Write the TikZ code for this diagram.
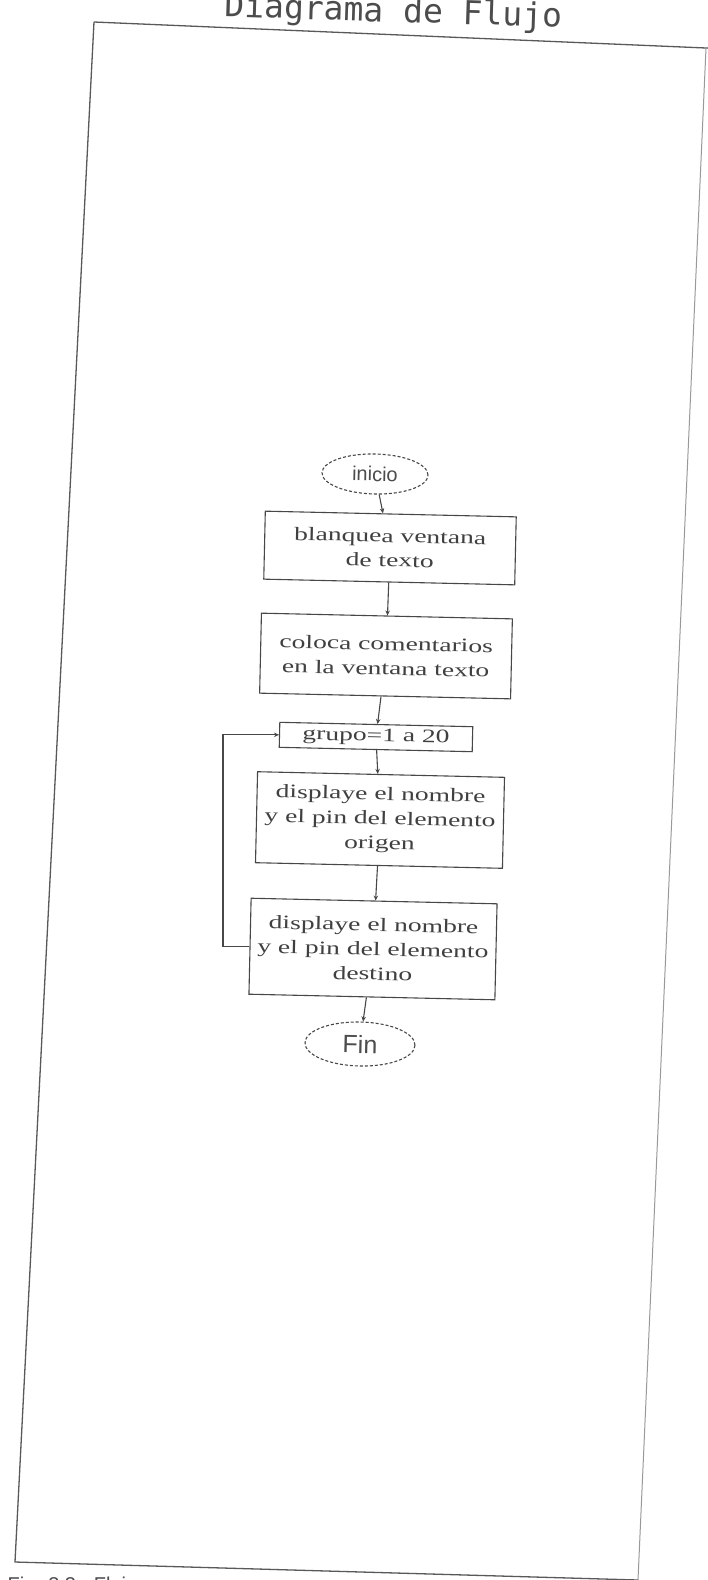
\documentclass[tikz,border=0pt]{standalone}
\usepackage{fontspec}
\setmainfont{Liberation Serif}
\newfontfamily\boxfont[FakeStretch=1.45]{Liberation Serif}
\newfontfamily\ovalfont{Liberation Sans}
\newfontfamily\titlefont{DejaVu Sans Mono}
\usetikzlibrary{shapes.geometric,arrows.meta}

\tikzset{
  ink/.style={draw=black!72, line width=1.1pt},
  procbox/.style={ink, rectangle, align=center, inner sep=0pt,
    rotate=-1.3, text=black!75,
    font=\boxfont\fontsize{19}{24.5}\selectfont},
  terminal/.style={ink, ellipse, densely dashed, inner sep=0pt,
    rotate=-1.3, text=black!70, font=\ovalfont\fontsize{20}{24}\selectfont},
  flow/.style={ink, -{Stealth[length=5pt,width=4.5pt]}},
  sheet/.style={draw=black!65, line width=1.3pt},
}

\begin{document}
\begin{tikzpicture}[x=1pt,y=-1pt]
  \useasboundingbox (0,0) rectangle (708,1580);
  \clip (0,0) rectangle (708,1580);
  \fill[white] (0,0) rectangle (708,1580);

  % sheet outline
  \coordinate (tl) at (94,22);
  \coordinate (tr) at (706,48);
  \coordinate (br) at (638,1580);
  \coordinate (bl) at (15,1562);
  \draw[sheet] (tl) -- (tr) -- (708,48.1);
  \draw[sheet, draw=black!40, line width=1pt] (tr) -- (br);
  \draw[sheet] (tl) -- (bl) -- (br);

  % heading
  \node[anchor=base, rotate=-1.8, text=black!70,
        font=\titlefont\fontsize{33}{36}\selectfont] (title) at (393,22)
        {Diagrama de Flujo};

  % flowchart
  \node[terminal, minimum width=106, minimum height=40] (start) at (375,474) {inicio};
  \node[procbox, minimum width=251, minimum height=68] (clear) at (390,548)
        {blanquea ventana\\de texto};
  \node[procbox, minimum width=251, minimum height=80] (comment) at (386,656)
        {coloca comentarios\\en la ventana texto};
  \node[procbox, minimum width=193, minimum height=25] (loop) at (376,737)
        {grupo=1 a 20};
  \node[procbox, minimum width=247, minimum height=91] (origin) at (380,820)
        {displaye el nombre\\y el pin del elemento\\origen};
  \node[procbox, minimum width=246, minimum height=96] (target) at (373,949)
        {displaye el nombre\\y el pin del elemento\\destino};
  \node[terminal, minimum width=110, minimum height=44,
        font=\ovalfont\fontsize{25}{28}\selectfont] (stop) at (360,1044) {Fin};

  \draw[flow] (start) -- (clear);
  \draw[flow] (clear) -- (comment);
  \draw[flow] (comment) -- (loop);
  \draw[flow] (loop) -- (origin);
  \draw[flow] (origin) -- (target);
  \draw[flow] (target) -- (stop);

  % return of the loop
  \coordinate (loopx) at (223,0);
  \draw[flow] (target.west) -- (target.west -| loopx) |- (loop.west);

  % caption, cut by the lower edge
  \node[anchor=base west, text=black!70,
        font=\ovalfont\fontsize{20}{24}\selectfont] (caption) at (4,1591)
        {Fig. 3.3 - Flujo};
\end{tikzpicture}
\end{document}
